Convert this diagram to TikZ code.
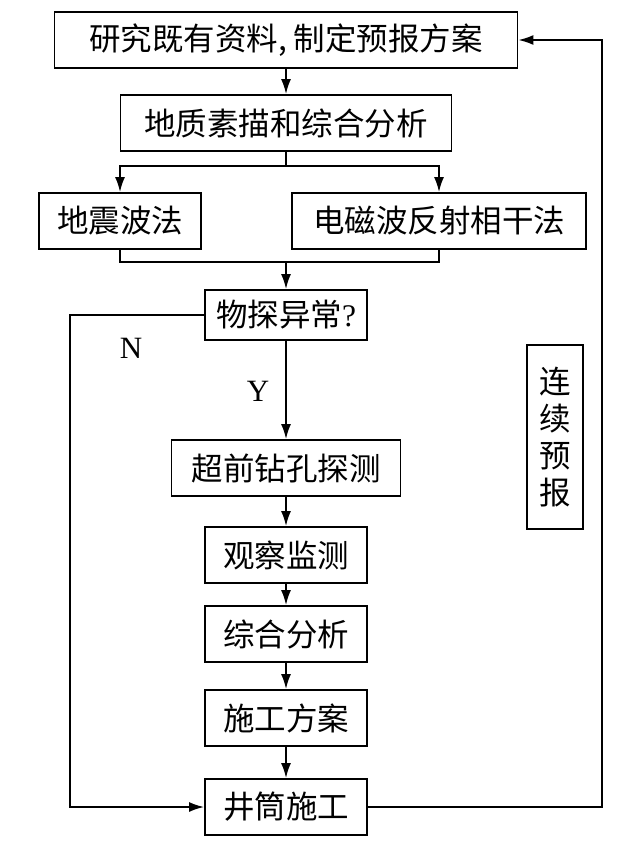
\documentclass[tikz,border=0pt]{standalone}
\usepackage{fontspec}
\setmainfont{Liberation Serif}
\newfontfamily\cjk{Noto Sans CJK SC}
\usepackage{tikz}
\usetikzlibrary{arrows.meta, positioning, calc}

\tikzset{
  flowbox/.style={draw, line width=1.8pt, minimum height=56pt, inner sep=0pt,
    font=\fontsize{31.5}{37}\selectfont\cjk},
  flowline/.style={line width=1.8pt},
  flowarrow/.style={line width=1.8pt, -{Latex[length=15pt,width=10pt]}},
  yesno/.style={font=\fontsize{31}{37}\selectfont}
}

\begin{document}
\begin{tikzpicture}[x=1pt,y=-1pt]

% Canvas
\useasboundingbox (0,0) rectangle (617,843);

% Column positions
\def\mx{286}   % main column
\def\lx{120}   % left branch
\def\rx{439}   % right branch

% Boxes
\node[flowbox, minimum width=463pt] (study) at (\mx,40) {研究既有资料, 制定预报方案};
\node[flowbox, minimum width=331pt] (sketch) at (\mx,123) {地质素描和综合分析};
\node[flowbox, minimum width=162pt] (seismic) at (\lx,221) {地震波法};
\node[flowbox, minimum width=294pt] (radar) at (\rx,221) {电磁波反射相干法};
\node[flowbox, minimum width=162pt, minimum height=50pt] (anomaly) at (\mx,315) {物探异常{\rmfamily ?}};
\node[flowbox, minimum width=229pt] (drill) at (\mx,468) {超前钻孔探测};
\node[flowbox, minimum width=162pt] (monitor) at (\mx,555) {观察监测};
\node[flowbox, minimum width=162pt] (analysis) at (\mx,634) {综合分析};
\node[flowbox, minimum width=162pt] (plan) at (\mx,718) {施工方案};
\node[flowbox, minimum width=162pt] (shaft) at (\mx,807) {井筒施工};

% Side note
\node[flowbox, minimum width=56pt, minimum height=184pt, align=center,
  font=\fontsize{31.5}{37}\selectfont\cjk] (forecast) at (555,437) {连\\续\\预\\报};

% Helper points
\coordinate (split) at (\mx,166);
\coordinate (merge) at (\mx,262);
\coordinate (nline) at (70,0);
\coordinate (loop) at (602,0);

% Main flow
\draw[flowarrow] (study) -- (sketch);
\draw[flowline] (sketch) -- (split);
\draw[flowarrow] (split) -| (seismic);
\draw[flowarrow] (split) -| (radar);
\draw[flowline] (seismic) |- (merge) -| (radar);
\draw[flowarrow] (merge) -- (anomaly);
\draw[flowarrow] (anomaly) -- (drill);
\draw[flowarrow] (drill) -- (monitor);
\draw[flowarrow] (monitor) -- (analysis);
\draw[flowarrow] (analysis) -- (plan);
\draw[flowarrow] (plan) -- (shaft);

% No branch
\draw[flowarrow] (anomaly.west) -- (anomaly.west -| nline) |- (shaft.west);

% Feedback loop
\draw[flowarrow] (shaft.east) -- (shaft.east -| loop) |- (study.east);

% Labels
\node[yesno] (no) at (131,348) {N};
\node[yesno] (yes) at (258,391) {Y};

\end{tikzpicture}
\end{document}
